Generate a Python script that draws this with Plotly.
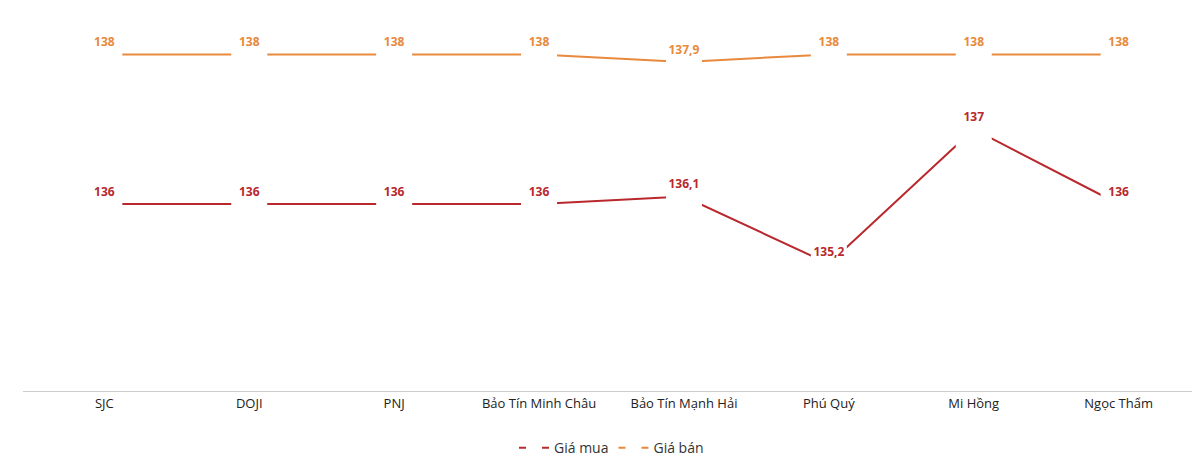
import plotly.graph_objects as go

cats = ["SJC", "DOJI", "PNJ", "Bảo Tín Minh Châu", "Bảo Tín Mạnh Hải", "Phú Quý", "Mi Hồng", "Ngọc Thẩm"]
gia_mua = [136, 136, 136, 136, 136.1, 135.2, 137, 136]
gia_ban = [138, 138, 138, 138, 137.9, 138, 138, 138]

def fmt(v):
    s = ("%.1f" % v).rstrip("0").rstrip(".")
    return s.replace(".", ",")

fig = go.Figure()
for name, vals, color in [("Giá mua", gia_mua, "#B8282C"), ("Giá bán", gia_ban, "#E8893C")]:
    # line with gaps at the points (white square markers cover it)
    fig.add_trace(go.Scatter(
        x=cats, y=vals, name=name, mode="lines+markers",
        line=dict(color=color, width=2),
        marker=dict(symbol="square", size=36, color="white", line=dict(width=0)),
    ))
    fig.add_trace(go.Scatter(
        x=cats, y=[v + 0.15 for v in vals], mode="text", showlegend=False, hoverinfo="skip",
        text=["<b>%s</b>" % fmt(v) for v in vals], textposition="middle center",
        textfont=dict(color=color, size=12, family="Open Sans"),
    ))

fig.update_layout(
    width=1200, height=464, plot_bgcolor="white", paper_bgcolor="white",
    margin=dict(l=15, r=8, t=9, b=71 - 17),
    font=dict(family="Open Sans", color="#222"),
    showlegend=True,
    legend=dict(orientation="h", x=0.5, xanchor="center", y=-0.11, yanchor="top",
                font=dict(size=14, color="#333"), itemwidth=30),
)
fig.update_xaxes(showline=True, linecolor="#cccccc", showgrid=False, ticks="",
                 tickfont=dict(size=13, color="#222"))
fig.update_yaxes(range=[133.5, 138.5], visible=False)
fig.write_html("out.html")
